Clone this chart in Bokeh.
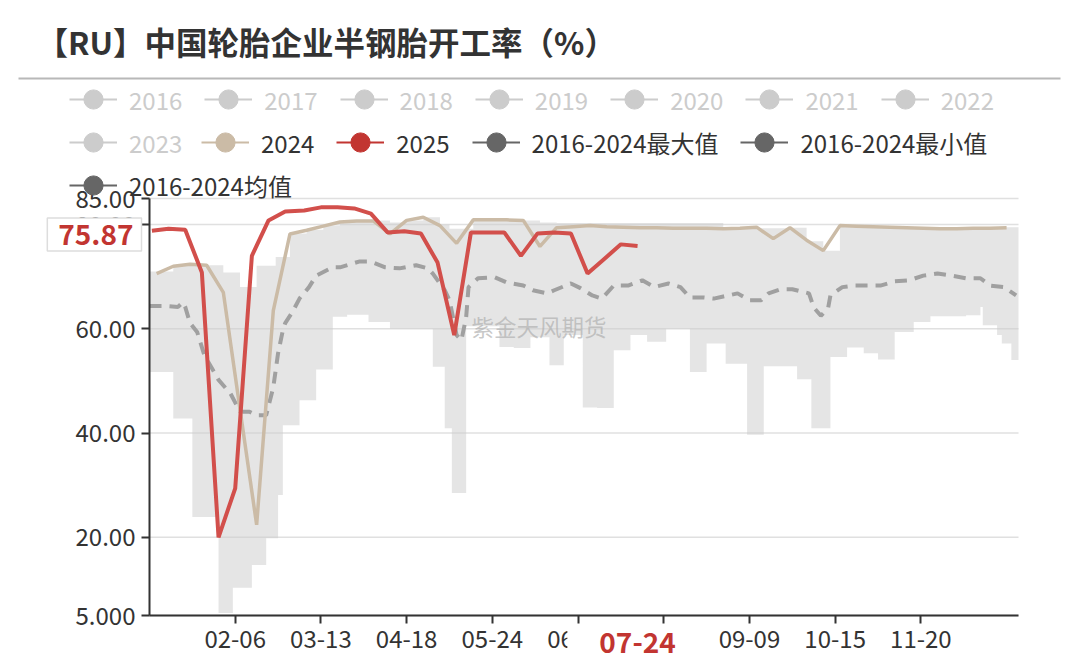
import datetime as dt
import numpy as np
from bokeh.plotting import figure
from bokeh.models import (ColumnDataSource, FixedTicker, Legend, LegendItem, Label, Range1d,
                          BoxAnnotation)
from bokeh.embed import file_html
from bokeh.resources import INLINE

FONT = "Noto Sans CJK SC"

title_text = "【RU】中国轮胎企业半钢胎开工率（%）"
watermark = "紫金天风期货"

legend_inactive = ["2016", "2017", "2018", "2019", "2020", "2021", "2022"]
legend_inactive_2 = ["2023"]
legend_active = ["2024", "2025", "2016-2024最大值", "2016-2024最小值"]
legend_mean = "2016-2024均值"

dates_2025 = ["01-02", "01-09", "01-16", "01-23", "01-30", "02-06", "02-13", "02-20", "02-27",
              "03-06", "03-13", "03-20", "03-27", "04-03", "04-10", "04-17", "04-24", "05-01",
              "05-08", "05-15", "05-22", "05-29", "06-05", "06-12", "06-19", "06-26", "07-03",
              "07-10", "07-17", "07-24"]
vals_2025 = [78.8, 79.2, 79.0, 70.8, 20.0, 29.4, 74.0, 80.8, 82.5,
             82.7, 83.3, 83.3, 83.1, 82.1, 78.5, 78.7, 78.3, 72.7,
             58.8, 78.5, 78.5, 78.5, 74.0, 78.3, 78.5, 78.3, 70.6,
             73.4, 76.2, 75.87]

dates_2024 = ["01-04", "01-11", "01-18", "01-25", "02-01", "02-08", "02-15", "02-22", "02-29",
              "03-07", "03-14", "03-21", "03-28", "04-04", "04-11", "04-18", "04-25", "05-02",
              "05-09", "05-16", "05-23", "05-30", "06-06", "06-13", "06-20", "06-27", "07-04",
              "07-11", "07-18", "07-25", "08-01", "08-08", "08-15", "08-22", "08-29", "09-05",
              "09-12", "09-19", "09-26", "10-03", "10-10", "10-17", "10-24", "10-31", "11-07",
              "11-14", "11-21", "11-28", "12-05", "12-12", "12-19", "12-26"]
vals_2024 = [70.6, 72.0, 72.4, 72.2, 67.0, 44.6, 22.4, 63.5, 78.2,
             78.9, 79.7, 80.5, 80.7, 80.7, 78.2, 80.8, 81.4, 79.8,
             76.4, 80.9, 80.9, 80.9, 80.8, 75.8, 79.4, 79.6, 79.8,
             79.6, 79.5, 79.4, 79.4, 79.3, 79.3, 79.3, 79.2, 79.3,
             79.5, 77.3, 79.4, 77.0, 75.0, 79.8, 79.7, 79.6, 79.5,
             79.4, 79.3, 79.2, 79.2, 79.3, 79.3, 79.4]

# 2016-2024 mean (day of a leap year, 0 = 01-01)
mean_doy = [0, 6, 12, 14, 15, 17, 20, 23, 29, 34, 38, 42, 45, 49, 52, 54, 56, 57, 60, 63,
            67, 70, 77, 80, 88, 93, 99, 105, 112, 117, 119, 124, 126, 129, 131, 133, 134, 138, 145, 150,
            157, 161, 167, 170, 177, 181, 186, 190, 195, 201, 207, 212, 218, 223, 227, 233, 237, 241, 247, 252,
            257, 260, 265, 270, 277, 279, 282, 285, 286, 291, 296, 301, 307, 313, 319, 325, 331, 337, 343, 349,
            353, 359, 364]
mean_vals = [64.4, 64.4, 64.2, 65.1, 64.2, 61.1, 59.4, 55.0, 50.2, 47.6, 44.1, 44.1, 43.4, 43.4, 48.8, 55.3, 59.7, 61.1, 63.2, 65.8,
             68.0, 70.2, 71.8, 71.8, 72.9, 72.9, 71.8, 71.6, 72.2, 71.6, 70.6, 67.4, 65.5, 58.8, 57.8, 62.2, 68.0, 69.7, 69.9, 68.9,
             68.3, 67.4, 66.8, 67.4, 68.7, 67.8, 66.4, 65.8, 68.3, 68.3, 69.3, 68.0, 68.7, 68.0, 66.0, 66.0, 65.8, 66.2, 66.8, 65.5,
             65.5, 66.8, 67.6, 67.6, 66.8, 64.1, 62.5, 63.9, 66.4, 68.0, 68.3, 68.3, 68.3, 69.1, 69.3, 70.2, 70.6, 70.2, 69.7, 69.7,
             68.3, 68.0, 66.4]

# 2016-2024 max / min envelope (value held from each day until the next)
band_doy = [0, 10, 18, 29, 31, 35, 38, 43, 45, 49, 53, 54, 56, 59, 63, 66, 70, 73, 77, 80,
            83, 87, 92, 101, 108, 115, 119, 122, 124, 126, 127, 133, 136, 147, 153, 157, 160, 164, 168, 171,
            174, 182, 188, 195, 202, 209, 217, 227, 234, 241, 242, 251, 255, 258, 269, 272, 276, 278, 283, 286,
            290, 293, 300, 306, 313, 321, 328, 343, 349, 350, 356, 358, 362, 365]
band_max = [71.0, 72.2, 72.2, 72.2, 70.8, 70.8, 68.0, 68.0, 72.1, 72.1, 73.8, 73.8, 73.8, 78.3, 78.3, 79.0, 79.0, 79.8, 79.8, 80.6,
            80.6, 80.8, 80.8, 80.4, 80.8, 81.4, 81.4, 80.0, 80.0, 79.2, 79.2, 79.2, 80.9, 80.9, 80.9, 80.8, 80.8, 80.4, 80.4, 80.3,
            80.3, 80.3, 80.3, 80.3, 80.3, 80.3, 80.3, 80.3, 80.3, 79.5, 79.5, 79.5, 79.3, 79.3, 79.4, 79.4, 76.8, 76.8, 75.0, 75.0,
            79.8, 79.8, 79.6, 79.6, 79.5, 79.5, 79.5, 79.5, 79.5, 79.5, 79.5, 79.5, 79.5, 79.5]
band_min = [51.7, 42.8, 23.9, 5.5, 5.5, 10.3, 10.3, 14.7, 14.7, 19.8, 19.8, 28.1, 41.5, 41.5, 46.3, 46.3, 52.2, 52.2, 62.3, 62.3,
            62.7, 62.7, 61.3, 60.0, 60.0, 60.0, 52.7, 52.7, 40.9, 40.9, 28.5, 60.5, 60.5, 56.5, 56.3, 56.3, 58.4, 58.4, 53.0, 53.0,
            58.8, 44.9, 44.8, 55.9, 58.8, 57.5, 60.0, 51.7, 57.2, 57.2, 53.3, 39.7, 39.7, 52.8, 52.8, 50.3, 50.3, 40.9, 40.9, 54.6,
            54.6, 56.4, 55.3, 54.1, 59.4, 61.3, 62.4, 62.6, 64.2, 60.7, 58.8, 57.2, 54.0, 54.0]

y_ticks = [5, 20, 40, 60, 80, 85]
y_tick_labels = ["5.000", "20.00", "40.00", "60.00", "80.00", "85.00"]
x_tick_dates = ["02-06", "03-13", "04-18", "05-24", "06-29", "08-04", "09-09", "10-15", "11-20"]
x_first, x_last = 0, 365          # 01-01 .. 12-31 of a leap year
y_min, y_max = 5, 85
latest_date = "07-24"
latest_value = 75.87

C_RED_LINE = "#d24f4b"
C_RED = "#c23531"
C_TAN = "#cbbba6"
C_GREY_ICON = "#cccccc"
C_DARK = "#666666"
C_TEXT = "#333333"


def doy(mmdd):
    m, d = (int(v) for v in mmdd.split("-"))
    return (dt.date(2024, m, d) - dt.date(2024, 1, 1)).days


# ---- canvas geometry (pixels); the frame covers the whole canvas ----
W, H = 1072, 660
PL, PR, PT, PB = 149, 1018, 198, 615     # plot area inside the canvas
kx = (x_last - x_first) / (PR - PL)
ky = (y_max - y_min) / (PB - PT)
x_range = Range1d(x_first - PL * kx, x_last + (W - PR) * kx)
y_range = Range1d(y_min - (H - PB) * ky, y_max + PT * ky)

p = figure(width=W, height=H, x_range=x_range, y_range=y_range,
           output_backend="svg", toolbar_location=None, min_border=0)
p.outline_line_color = None
p.xgrid.visible = False
p.ygrid.visible = False

# horizontal grid lines at the y ticks
p.segment(x0=[x_first] * len(y_ticks), x1=[x_last] * len(y_ticks), y0=y_ticks, y1=y_ticks,
          line_color="#e0e0e0", line_width=1.5)

band_src = ColumnDataSource(dict(x=band_doy, top=band_max, bottom=band_min))
p.varea_step(x="x", y1="bottom", y2="top", step_mode="after", source=band_src,
             fill_color="#cccccc", fill_alpha=0.5)

p.line(mean_doy, mean_vals, line_color="#a0a0a0", line_width=4, line_dash="12 8")
p.line([doy(d) for d in dates_2024], vals_2024, line_color=C_TAN, line_width=3.5)
p.line([doy(d) for d in dates_2025], vals_2025, line_color=C_RED_LINE, line_width=4)

# axes, pinned at the plot area's edges
xax, yax = p.xaxis[0], p.yaxis[0]
for ax in (xax, yax):
    ax.axis_line_color = C_TEXT
    ax.axis_line_width = 2
    ax.major_tick_line_color = C_TEXT
    ax.major_tick_line_width = 2
    ax.major_tick_out = 8
    ax.major_tick_in = 0
    ax.minor_tick_line_color = None
    ax.major_label_text_font = FONT
    ax.major_label_text_font_size = "24px"
    ax.major_label_text_color = C_TEXT
    ax.major_label_standoff = 6
yax.fixed_location = x_first
yax.bounds = (y_min, y_max)
yax.ticker = FixedTicker(ticks=y_ticks)
yax.major_label_overrides = {k: v for k, v in zip(y_ticks, y_tick_labels)}
xax.fixed_location = y_min
xax.bounds = (x_first, x_last)
xax.ticker = FixedTicker(ticks=[doy(d) for d in x_tick_dates])
xax.major_label_overrides = {doy(d): d for d in x_tick_dates}


# legend (renderers without data, used only for the legend icons)
def icon(color):
    src = ColumnDataSource(dict(x=np.array([np.nan]), y=np.array([np.nan])))
    ln = p.line("x", "y", source=src, line_color=color, line_width=2)
    sc = p.scatter("x", "y", source=src, marker="circle", size=10, fill_color=color, line_color=color)
    return [ln, sc]


GH = 50  # legend glyph box height


def add_legend(labels, colors, x, row_center, text_color):
    items = [LegendItem(label=lab, renderers=icon(c)) for lab, c in zip(labels, colors)]
    lg = Legend(items=items, location=(x, H - row_center - GH / 2), orientation="horizontal",
                glyph_width=48, glyph_height=GH, label_standoff=12, spacing=22,
                padding=0, margin=0, border_line_color=None, background_fill_alpha=0,
                label_text_font=FONT, label_text_font_size="24px", label_text_color=text_color,
                label_height=30)
    p.add_layout(lg)


add_legend(legend_inactive, [C_GREY_ICON] * len(legend_inactive), 69, 99, "#cccccc")
add_legend(legend_inactive_2, [C_GREY_ICON], 69, 142, "#cccccc")
add_legend(legend_active, [C_TAN, C_RED, C_DARK, C_DARK], 201, 142, C_TEXT)
add_legend([legend_mean], [C_DARK], 69, 185, C_TEXT)

# title and rule
p.add_layout(Label(x=36, y=H - 40, x_units="screen", y_units="screen", text=title_text,
                   text_font=FONT, text_font_size="31.5px", text_font_style="bold",
                   text_color=C_TEXT, text_baseline="middle"))
p.add_layout(BoxAnnotation(left=18, right=1060, top=H - 77, bottom=H - 79,
                           left_units="screen", right_units="screen", top_units="screen",
                           bottom_units="screen", fill_color="#b8b8b8", fill_alpha=1,
                           line_color=None))

# watermark
p.add_layout(Label(x=471, y=H - 325, x_units="screen", y_units="screen", text=watermark,
                   text_font=FONT, text_font_size="22.5px", text_color="#b0b0b0", text_alpha=0.7,
                   text_baseline="middle"))

# axis-pointer labels (drawn above the axes)
p.add_layout(Label(x=141, y=H - 234, x_units="screen", y_units="screen", text=f"{latest_value:.2f}",
                   text_align="right", text_baseline="middle", text_font=FONT,
                   text_font_size="28px", text_font_style="bold", text_color=C_RED,
                   background_fill_color="white", border_line_color="#dddddd", border_line_width=1.5,
                   padding=dict(left=11, right=8, top=6, bottom=6), level="overlay"))
p.add_layout(Label(x=doy(latest_date), y=H - 642, x_units="data", y_units="screen", text=latest_date,
                   text_align="center", text_baseline="middle", text_font=FONT,
                   text_font_size="28px", text_font_style="bold", text_color=C_RED,
                   background_fill_color="white",
                   padding=dict(left=32, right=32, top=2, bottom=2), level="overlay"))

open("out.html", "w").write(file_html(p, INLINE))
